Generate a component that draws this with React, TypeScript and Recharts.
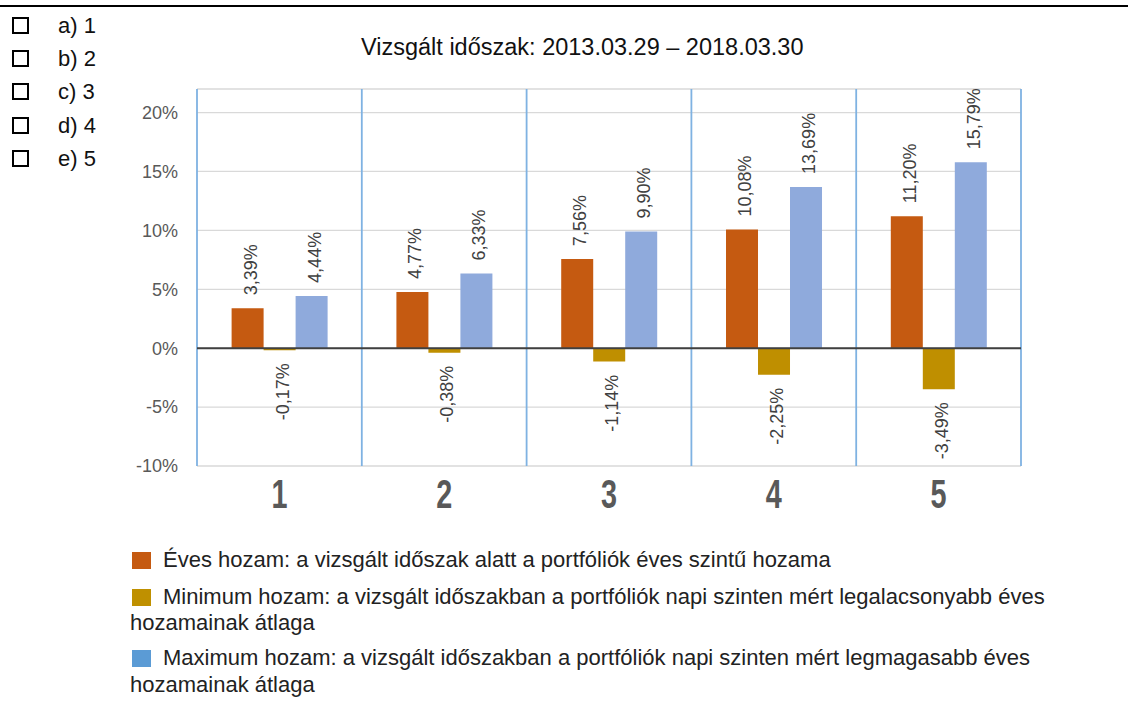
import React from 'react';
import { BarChart, Bar, XAxis, YAxis, CartesianGrid, ReferenceLine, LabelList } from 'recharts';

const categories = ['1', '2', '3', '4', '5'];
const annualReturn = [3.39, 4.77, 7.56, 10.08, 11.2];
const minReturn = [-0.17, -0.38, -1.14, -2.25, -3.49];
const maxReturn = [4.44, 6.33, 9.9, 13.69, 15.79];
const yTicks = [-10, -5, 0, 5, 10, 15, 20];
const answerOptions = ['a) 1', 'b) 2', 'c) 3', 'd) 4', 'e) 5'];
const titleText = 'Vizsgált időszak: 2013.03.29 – 2018.03.30';
const legendItems = [
  { color: '#C55A11', lines: ['Éves hozam: a vizsgált időszak alatt a portfóliók éves szintű hozama'] },
  { color: '#BF9000', lines: ['Minimum hozam: a vizsgált időszakban a portfóliók napi szinten mért legalacsonyabb éves', 'hozamainak átlaga'] },
  { color: '#5B9BD5', lines: ['Maximum hozam: a vizsgált időszakban a portfóliók napi szinten mért legmagasabb éves', 'hozamainak átlaga'] },
];

const data = categories.map((c, i) => ({
  name: c,
  annual: annualReturn[i],
  min: minReturn[i],
  max: maxReturn[i],
}));

const FONT = '"Liberation Sans", Arial, sans-serif';

const fmt = (v: number) => v.toFixed(2).replace('.', ',') + '%';

const renderLabel = (props: any) => {
  const { x, y, width, height, value } = props;
  const top = Math.min(y, y + height);
  const bottom = Math.max(y, y + height);
  const bx = x + width / 2 + 9;
  const neg = value < 0;
  const ly = neg ? bottom + 13 : top - 13;
  return (
    <text
      x={bx}
      y={ly}
      transform={`rotate(-90, ${bx}, ${ly})`}
      textAnchor={neg ? 'end' : 'start'}
      fontSize={18}
      fontFamily={FONT}
      fill="#404040"
    >
      {fmt(value)}
    </text>
  );
};

const CatTick = (props: any) => {
  const { x, y, payload } = props;
  return (
    <g transform={`translate(${x}, ${y + 34}) scale(0.72, 1)`}>
      <text
        x={0}
        y={0}
        textAnchor="middle"
        fontSize={40}
        fontWeight="bold"
        fontFamily={FONT}
        fill="#595959"
      >
        {payload.value}
      </text>
    </g>
  );
};

export default function App() {
  return (
    <div style={{ position: 'absolute', left: 0, top: 0, width: 1128, height: 705, background: '#fff', fontFamily: FONT, color: '#111' }}>
      <div style={{ position: 'absolute', left: 0, top: 5, width: 1128, height: 2.4, background: '#000' }} />
      {answerOptions.map((a, i) => (
        <div key={a} style={{ position: 'absolute', left: 12, top: 12 + i * 33.2, height: 27, display: 'flex', alignItems: 'center' }}>
          <div style={{ width: 17, height: 17, border: '2px solid #000', boxSizing: 'border-box' }} />
          <span style={{ position: 'absolute', left: 46, fontSize: 22, lineHeight: '27px', whiteSpace: 'nowrap' }}>{a}</span>
        </div>
      ))}
      <div style={{ position: 'absolute', left: 361, top: 33, fontSize: 23.5, lineHeight: '28px', whiteSpace: 'nowrap', color: '#111' }}>{titleText}</div>
      <div style={{ position: 'absolute', left: 0, top: 0 }}>
        <BarChart
          width={1128}
          height={705}
          data={data}
          margin={{ top: 89, right: 107, bottom: 209, left: 137 }}
          barGap={0}
          barCategoryGap="21%"
        >
          <CartesianGrid horizontal vertical={false} stroke="#d9d9d9" strokeWidth={1.3} />
          <XAxis dataKey="name" height={30} axisLine={false} tickLine={false} tick={<CatTick />} interval={0} />
          <YAxis
            width={60}
            domain={[-10, 22]}
            ticks={yTicks}
            interval={0}
            axisLine={false}
            tickLine={false}
            tickSize={6}
            tickMargin={13}
            tickFormatter={(v: number) => v + '%'}
            tick={{ fontSize: 18, fill: '#595959', fontFamily: FONT }}
          />
          <Bar dataKey="annual" fill="#C55A11" isAnimationActive={false}>
            <LabelList dataKey="annual" content={renderLabel} />
          </Bar>
          <Bar dataKey="min" fill="#BF8F00" isAnimationActive={false}>
            <LabelList dataKey="min" content={renderLabel} />
          </Bar>
          <Bar dataKey="max" fill="#8FAADC" isAnimationActive={false}>
            <LabelList dataKey="max" content={renderLabel} />
          </Bar>
          {categories.map((c) => (
            <ReferenceLine key={c} x={c} position="start" stroke="#7FB2E2" strokeWidth={1.8} />
          ))}
          <ReferenceLine x={categories[categories.length - 1]} position="end" stroke="#7FB2E2" strokeWidth={1.8} />
          <ReferenceLine y={0} stroke="#404040" strokeWidth={2} />
        </BarChart>
      </div>
      {legendItems.map((item, i) => (
        <div
          key={i}
          style={{ position: 'absolute', left: 130, top: [547, 583.5, 645][i], fontSize: 22, lineHeight: '26.7px', color: '#222', whiteSpace: 'nowrap' }}
        >
          {item.lines.map((ln, j) => (
            <div key={j} style={{ position: 'relative', paddingLeft: j === 0 ? 33 : 0 }}>
              {j === 0 && (
                <span style={{ position: 'absolute', left: 2, top: 5, width: 19, height: 17, background: item.color }} />
              )}
              {ln}
            </div>
          ))}
        </div>
      ))}
    </div>
  );
}
